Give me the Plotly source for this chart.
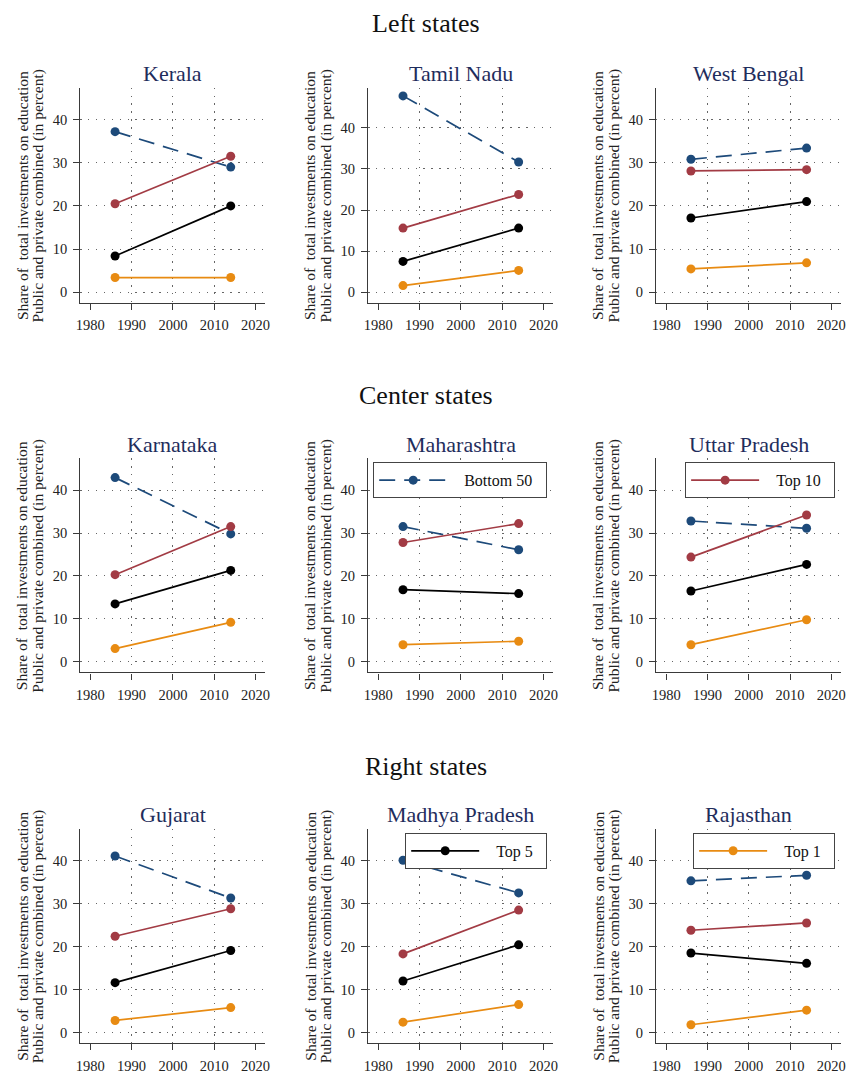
import plotly.graph_objects as go

# ---------------- data ----------------
years = [1986, 2014]
group_titles = ["Left states", "Center states", "Right states"]
states = ["Kerala", "Tamil Nadu", "West Bengal",
          "Karnataka", "Maharashtra", "Uttar Pradesh",
          "Gujarat", "Madhya Pradesh", "Rajasthan"]
series_names = ["Bottom 50", "Top 10", "Top 5", "Top 1"]

bottom50 = [[37.2, 29.0], [47.8, 31.7], [30.8, 33.4],
            [42.9, 29.8], [31.5, 26.1], [32.8, 31.1],
            [41.1, 31.3], [40.1, 32.5], [35.3, 36.6]]
top10 = [[20.5, 31.5], [15.6, 23.8], [28.1, 28.4],
         [20.3, 31.5], [27.8, 32.2], [24.4, 34.2],
         [22.4, 28.8], [18.3, 28.5], [23.8, 25.5]]
top5 = [[8.4, 20.0], [7.5, 15.6], [17.2, 21.0],
        [13.5, 21.3], [16.8, 15.9], [16.5, 22.7],
        [11.6, 19.1], [12.0, 20.4], [18.5, 16.1]]
top1 = [[3.4, 3.4], [1.6, 5.3], [5.4, 6.8],
        [3.1, 9.2], [4.0, 4.8], [4.0, 9.8],
        [2.8, 5.8], [2.4, 6.5], [1.8, 5.2]]

x_ticks = [1980, 1990, 2000, 2010, 2020]
x_grid = [1990, 2000, 2010]
y_ticks = [0, 10, 20, 30, 40]
ytitle_1 = "Share of  total investments on education"
ytitle_2 = "Public and private combined (in percent)"

# ---------------- style ----------------
W, H = 852, 1074
FONT = "Liberation Serif, Times New Roman, serif"
colors = ["#1d4a7a", "#a23b44", "#000000", "#e88b12"]
dashes = ["16px,9px", "solid", "solid", "solid"]
series_data = [bottom50, top10, top5, top1]
legend_panel = {0: 4, 1: 5, 2: 7, 3: 8}      # series index -> panel index showing its legend
legend_keys = ["legend", "legend2", "legend3", "legend4"]
NB = "\u00a0"

col_x = [(77, 264), (368, 555), (659, 846)]
row_top = [88, 460, 832]
row_bot = [304, 675, 1047]
title_y = [73.8, 445.7, 817.3]
group_y = [24, 397, 769]


def px_x(p):
    return p / W


def px_y(p):
    return 1 - p / H


fig = go.Figure()
annotations = []
layout_axes = {}

for i, st in enumerate(states):
    r, c = divmod(i, 3)
    n = i + 1
    xa = f"x{n}"
    ya = f"y{n}"
    x0, x1 = col_x[c]
    xdom = [px_x(x0), px_x(x1)]
    ydom = [px_y(row_bot[r]), px_y(row_top[r])]
    yr = [-2.6, 49.8] if st == "Tamil Nadu" else [-2.47, 47.4]

    for s, name in enumerate(series_names):
        vals = series_data[s][i]
        show = legend_panel[s] == i
        fig.add_trace(go.Scatter(
            x=years, y=vals, mode="lines+markers",
            name=NB * 3 + name + NB * 2,
            xaxis=xa, yaxis=ya,
            line=dict(color=colors[s], width=1.7, dash=dashes[s]),
            marker=dict(color=colors[s], size=9),
            showlegend=show, legend=legend_keys[s],
            hovertemplate=name + ": %{y}<extra></extra>",
        ))
    # empty trace on overlay axis (vertical gridlines)
    fig.add_trace(go.Scatter(x=[], y=[], xaxis=f"x{n + 9}", yaxis=ya,
                             showlegend=False, hoverinfo="skip"))

    layout_axes[f"xaxis{n}"] = dict(
        domain=xdom, anchor=ya, range=[1977.55, 2022.35],
        tickmode="array", tickvals=x_ticks, showgrid=False, zeroline=False,
        showline=True, linecolor="#3a3a3a", linewidth=1.3,
        ticks="outside", ticklen=6, tickwidth=1.2, tickcolor="#3a3a3a",
        ticklabelstandoff=3, ticklabeloverflow="allow",
        tickfont=dict(family=FONT, size=14.5, color="#222"),
    )
    layout_axes[f"xaxis{n + 9}"] = dict(
        overlaying=xa, anchor=ya, range=[1977.55, 2022.35],
        tickmode="array", tickvals=x_grid, showgrid=True,
        gridcolor="#666", gridwidth=1.4, griddash="1.4px,6.5px",
        showticklabels=False, ticks="", showline=False, zeroline=False,
    )
    layout_axes[f"yaxis{n}"] = dict(
        domain=ydom, anchor=xa, range=yr,
        tickmode="array", tickvals=y_ticks, showgrid=True,
        gridcolor="#666", gridwidth=1.4, griddash="1.4px,6.5px",
        zeroline=False, showline=True, linecolor="#3a3a3a", linewidth=1.3,
        ticks="outside", ticklen=6, tickwidth=1.2, tickcolor="#3a3a3a",
        ticklabelstandoff=3,
        tickfont=dict(family=FONT, size=14.5, color="#222"),
    )

    # panel title
    annotations.append(dict(
        text=st, xref="paper", yref="paper",
        x=(xdom[0] + xdom[1]) / 2, y=px_y(title_y[r]),
        xanchor="center", yanchor="middle", showarrow=False,
        font=dict(family=FONT, size=22, color="#1f2d5c"),
    ))
    # y-axis titles (two lines)
    ymid = px_y((row_top[r] + row_bot[r]) / 2)
    for txt, off in ((ytitle_1, 59), (ytitle_2, 42.3)):
        annotations.append(dict(
            text=txt, xref="paper", yref="paper",
            x=px_x(x0 - off), y=ymid, xanchor="center", yanchor="middle",
            textangle=-90, showarrow=False,
            font=dict(family=FONT, size=15.5, color="#222"),
        ))

for r, g in enumerate(group_titles):
    annotations.append(dict(
        text=g, xref="paper", yref="paper", x=0.5, y=px_y(group_y[r]),
        xanchor="center", yanchor="middle", showarrow=False,
        font=dict(family=FONT, size=26, color="#111"),
    ))

legend_boxes = {  # right edge, top edge (px)
    "legend": (549, 464), "legend2": (840, 464),
    "legend3": (549, 836), "legend4": (840, 836),
}
for key, (xr, yt) in legend_boxes.items():
    layout_axes[key] = dict(
        x=px_x(xr), y=px_y(yt), xanchor="right", yanchor="top",
        bgcolor="white", bordercolor="#444", borderwidth=1,
        font=dict(family=FONT, size=16, color="#111"),
        itemwidth=68,
    )

fig.update_layout(
    width=W, height=H, margin=dict(l=0, r=0, t=0, b=0),
    paper_bgcolor="white", plot_bgcolor="white",
    annotations=annotations,
    **layout_axes,
)

fig.write_html(
    "out.html",
    config={"displayModeBar": False},
    post_script="document.body.style.margin='0';document.body.style.padding='0';"
                "document.body.style.overflow='hidden';",
)
